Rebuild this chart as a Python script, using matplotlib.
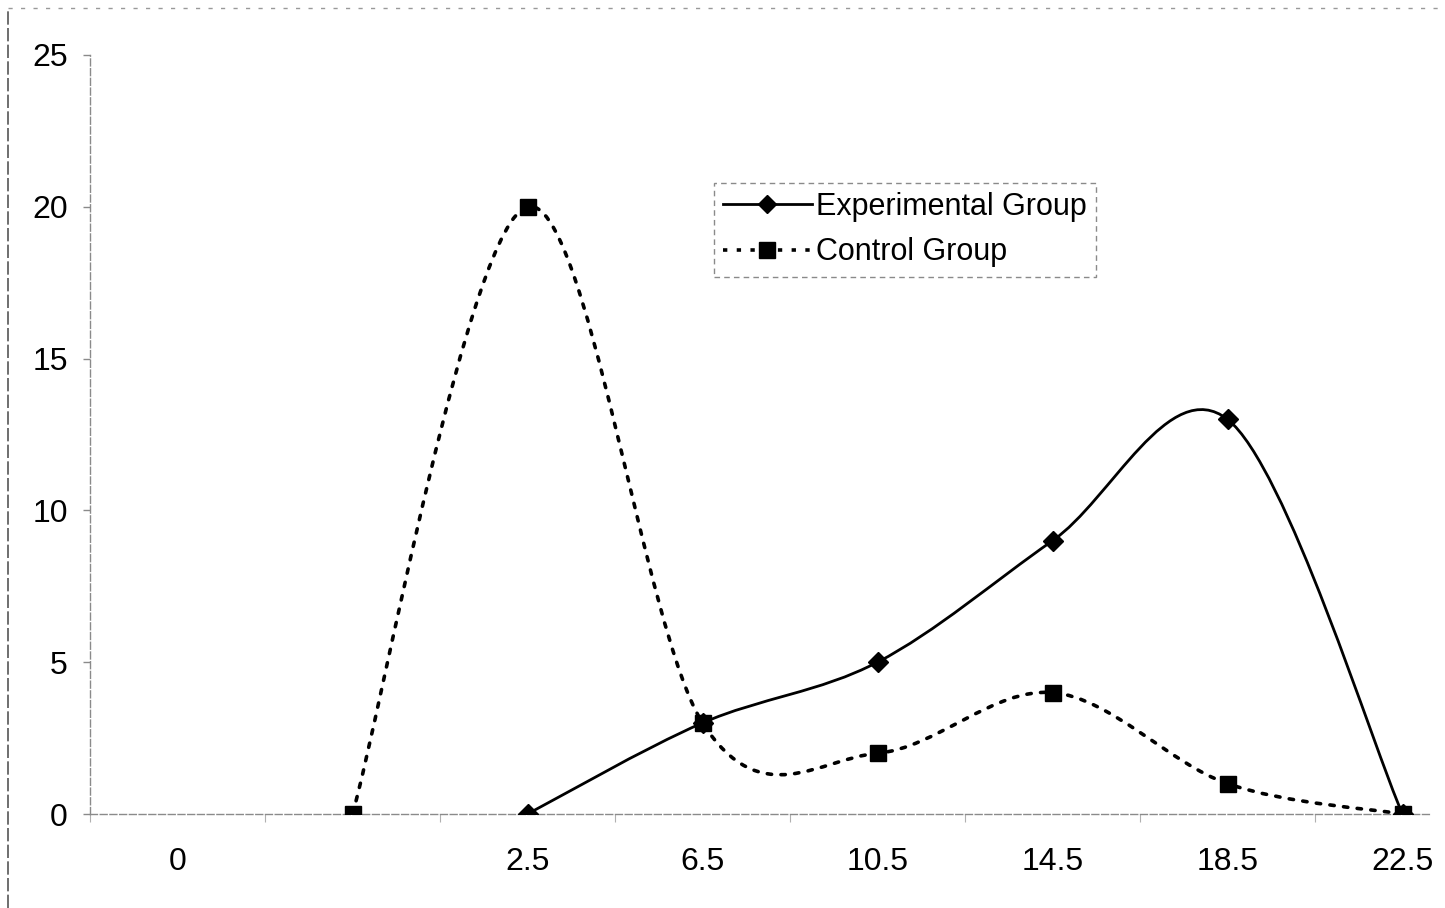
"""
Frequency curves for the two groups, drawn as smoothed lines the way a
spreadsheet does it (cubic Bezier segments through each point).
"""

import numpy as np
import matplotlib
matplotlib.use("Agg")
import matplotlib.pyplot as plt
from matplotlib.lines import Line2D
from matplotlib.path import Path
from matplotlib.patches import PathPatch

categories = ["0", "", "2.5", "6.5", "10.5", "14.5", "18.5", "22.5"]
experimental = [np.nan, np.nan, 0, 3, 5, 9, 13, 0]
control = [np.nan, 0, 20, 3, 2, 4, 1, 0]

W, H = 1445, 908
AX_COLOR = "#8a8a8a"

plt.rcParams["font.family"] = ["Liberation Sans", "DejaVu Sans"]


def smooth_path(xs, ys):
    # bezier through the points, tangent = (next - prev) / 6
    pts = [(x, y) for x, y in zip(xs, ys) if not np.isnan(y)]
    pts = np.array(pts, dtype=float)
    n = len(pts)
    verts = [pts[0]]
    codes = [Path.MOVETO]
    for i in range(n - 1):
        p0 = pts[i - 1] if i > 0 else pts[i]
        p1 = pts[i]
        p2 = pts[i + 1]
        p3 = pts[i + 2] if i + 2 < n else pts[i + 1]
        c1 = p1 + (p2 - p0) / 6.0
        c2 = p2 - (p3 - p1) / 6.0
        verts += [c1, c2, p2]
        codes += [Path.CURVE4] * 3
    return Path(verts, codes)


fig = plt.figure(figsize=(W / 100, H / 100), dpi=100)
fig.patch.set_facecolor("white")

# plot area in pixels: y axis at x=90, value 0 at y=814, value 25 at y=55
left, bottom = 90 / W, 1 - 814 / H
ax = fig.add_axes([left, bottom, 1338.75 / W, (814 - 55) / H])
ax.set_xlim(-0.5, 7.15)
ax.set_ylim(0, 25)

x = np.arange(len(categories))

ax.add_patch(PathPatch(smooth_path(x, experimental), fill=False,
                       edgecolor="black", lw=2.0, zorder=3))
ax.add_patch(PathPatch(smooth_path(x, control), fill=False,
                       edgecolor="black", lw=2.6, linestyle=(0, (1.2, 2.6)),
                       capstyle="round", zorder=3))

ax.plot(x, experimental, linestyle="none", marker="D", markersize=10,
        color="black", zorder=4)
ax.plot(x, control, linestyle="none", marker="s", markersize=11,
        color="black", zorder=4)

for side in ["top", "right"]:
    ax.spines[side].set_visible(False)
for side in ["left", "bottom"]:
    ax.spines[side].set_color(AX_COLOR)
    ax.spines[side].set_linewidth(1.0)
    ax.spines[side].set_linestyle((0, (5, 2)))

ax.set_yticks([0, 5, 10, 15, 20, 25])
ax.set_xticks(x)
ax.set_xticklabels(categories)
ax.set_xticks(np.arange(-0.5, 7.5, 1.0), minor=True)
ax.tick_params(axis="y", length=5, width=1, color=AX_COLOR, pad=11,
               labelsize=23)
ax.tick_params(axis="x", which="major", length=0, pad=24, labelsize=23)
ax.tick_params(axis="x", which="minor", length=6, width=0.8, color="#b0b0b0",
               direction="out")

handles = [
    Line2D([], [], color="black", lw=2.0, marker="D", markersize=9),
    Line2D([], [], color="black", lw=2.6, linestyle=(0, (1.2, 2.6)),
           marker="s", markersize=11),
]
leg = fig.legend(handles, ["Experimental Group", "Control Group"],
                 loc="upper left", bbox_to_anchor=(714 / W, 1 - 183 / H),
                 borderaxespad=0, fontsize=22, handlelength=2.9,
                 handletextpad=0.15, labelspacing=0.5, borderpad=0.3,
                 fancybox=False, framealpha=1)
leg.get_frame().set_edgecolor(AX_COLOR)
leg.get_frame().set_linewidth(1.0)
leg.get_frame().set_linestyle((0, (4, 3)))

# outer chart border
fig.add_artist(Line2D([8 / W, 8 / W], [0, 1 - 8 / H], transform=fig.transFigure,
                      color="#555555", lw=1.2, linestyle=(0, (8, 2))))
fig.add_artist(Line2D([8 / W, 1], [1 - 8 / H, 1 - 8 / H], transform=fig.transFigure,
                      color="#999999", lw=1.0, linestyle=(0, (3, 6))))

fig.savefig("out.png", dpi=100)
